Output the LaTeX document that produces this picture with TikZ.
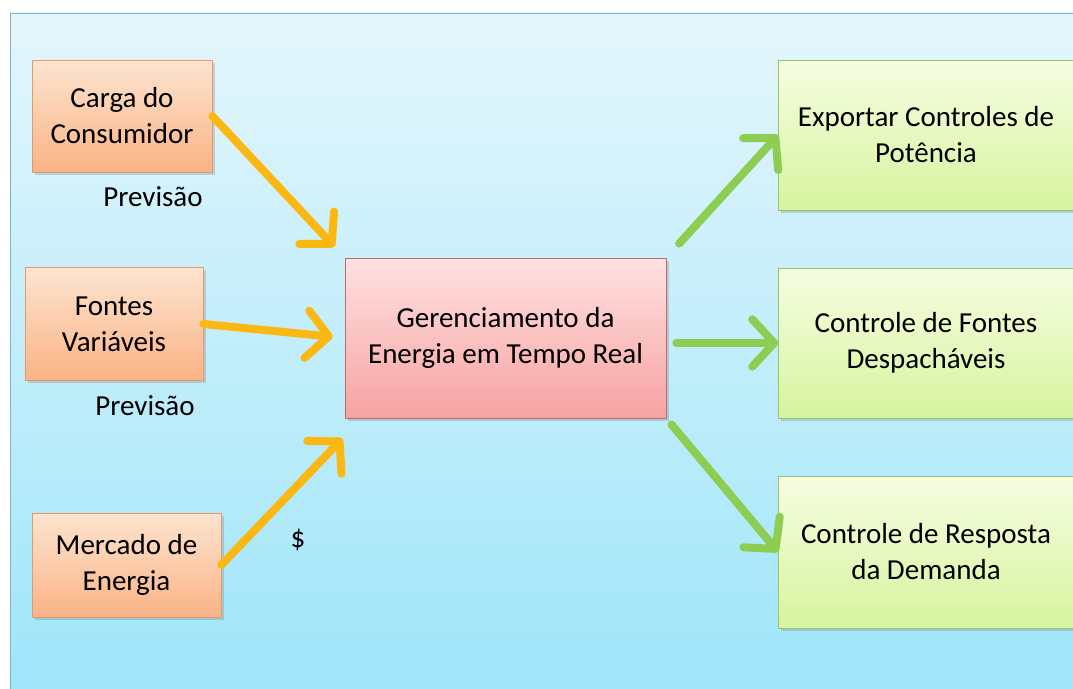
\documentclass[tikz,border=0pt]{standalone}
\usepackage{fontspec}
\setmainfont{Carlito}
\usetikzlibrary{arrows.meta,shadows}
\definecolor{fundoA}{HTML}{E4F6FB}
\definecolor{fundoB}{HTML}{9EE5FA}
\definecolor{moldura}{HTML}{7FB5C2}
\definecolor{laranjaA}{HTML}{FDE4D0}
\definecolor{laranjaB}{HTML}{FAB385}
\definecolor{laranjaC}{HTML}{E39A68}
\definecolor{rosaA}{HTML}{FFE1E1}
\definecolor{rosaB}{HTML}{F7A2A2}
\definecolor{rosaC}{HTML}{C06A6A}
\definecolor{verdeA}{HTML}{F7FDE2}
\definecolor{verdeB}{HTML}{D6F49E}
\definecolor{verdeC}{HTML}{98C46A}
\definecolor{setaLaranja}{HTML}{FBB812}
\definecolor{setaVerde}{HTML}{8CCD52}
\begin{document}
\begin{tikzpicture}[x=0.02cm, y=-0.02cm, font=\fontsize{16.5}{20.5}\selectfont, line join=round, line cap=round,
	caixa/.style={draw, align=center, inner sep=2pt, drop shadow={shadow xshift=1.5pt, shadow yshift=-1.5pt, opacity=0.3}},
	entrada/.style={caixa, draw=laranjaC, top color=laranjaA, bottom color=laranjaB},
	central/.style={caixa, draw=rosaC, top color=rosaA, bottom color=rosaB},
	saida/.style={caixa, draw=verdeC, top color=verdeA, bottom color=verdeB, minimum width=5.9cm, minimum height=3cm},
	setaL/.style={line width=0.16cm, draw=setaLaranja, -{Straight Barb[length=12.5pt,width=27pt,round]}},
	setaV/.style={line width=0.16cm, draw=setaVerde, -{Straight Barb[length=12.5pt,width=27pt,round]}}]
		\useasboundingbox (0,0) rectangle (1073,689);
		\draw[moldura, top color=fundoA, bottom color=fundoB] (10,13) rectangle (1090,705);
		\node[entrada, minimum width=3.6cm, minimum height=2.24cm] (carga) at (122,116) {Carga do\\Consumidor};
		\node[entrada, minimum width=3.56cm, minimum height=2.26cm] (fontes) at (114,324) {Fontes\\Variáveis};
		\node[entrada, minimum width=3.78cm, minimum height=2.08cm] (mercado) at (126.5,565) {Mercado de\\Energia};
		\node[central, minimum width=6.42cm, minimum height=3.2cm] (gerenc) at (505.5,338) {Gerenciamento da\\Energia em Tempo Real};
		\node[saida] (exportar) at (926,135) {Exportar Controles de\\Potência};
		\node[saida] (despach) at (926,343) {Controle de Fontes\\Despacháveis};
		\node[saida, minimum height=3.04cm] (resposta) at (926,552) {Controle de Resposta\\da Demanda};
		\node (prev1) at (153,197) {Previsão};
		\node (prev2) at (145,406) {Previsão};
		\node (cifrao) at (298,540) {\$};
		\draw[setaL, shorten >=0.3cm] (carga.east) -- (gerenc.north west);
		\draw[setaL, shorten >=0.24cm] (fontes.east) -- (gerenc.west);
		\draw[setaL, shorten >=0.56cm] (mercado.east) -- ([xshift=0.34cm]gerenc.south west);
		\draw[setaV, shorten <=0.38cm] (gerenc.north east) -- (exportar.west);
		\draw[setaV, shorten <=0.2cm] (gerenc.east |- despach.west) -- (despach.west);
		\draw[setaV, shorten <=0.16cm] (gerenc.south east) -- (resposta.west);
\end{tikzpicture}
\end{document}
